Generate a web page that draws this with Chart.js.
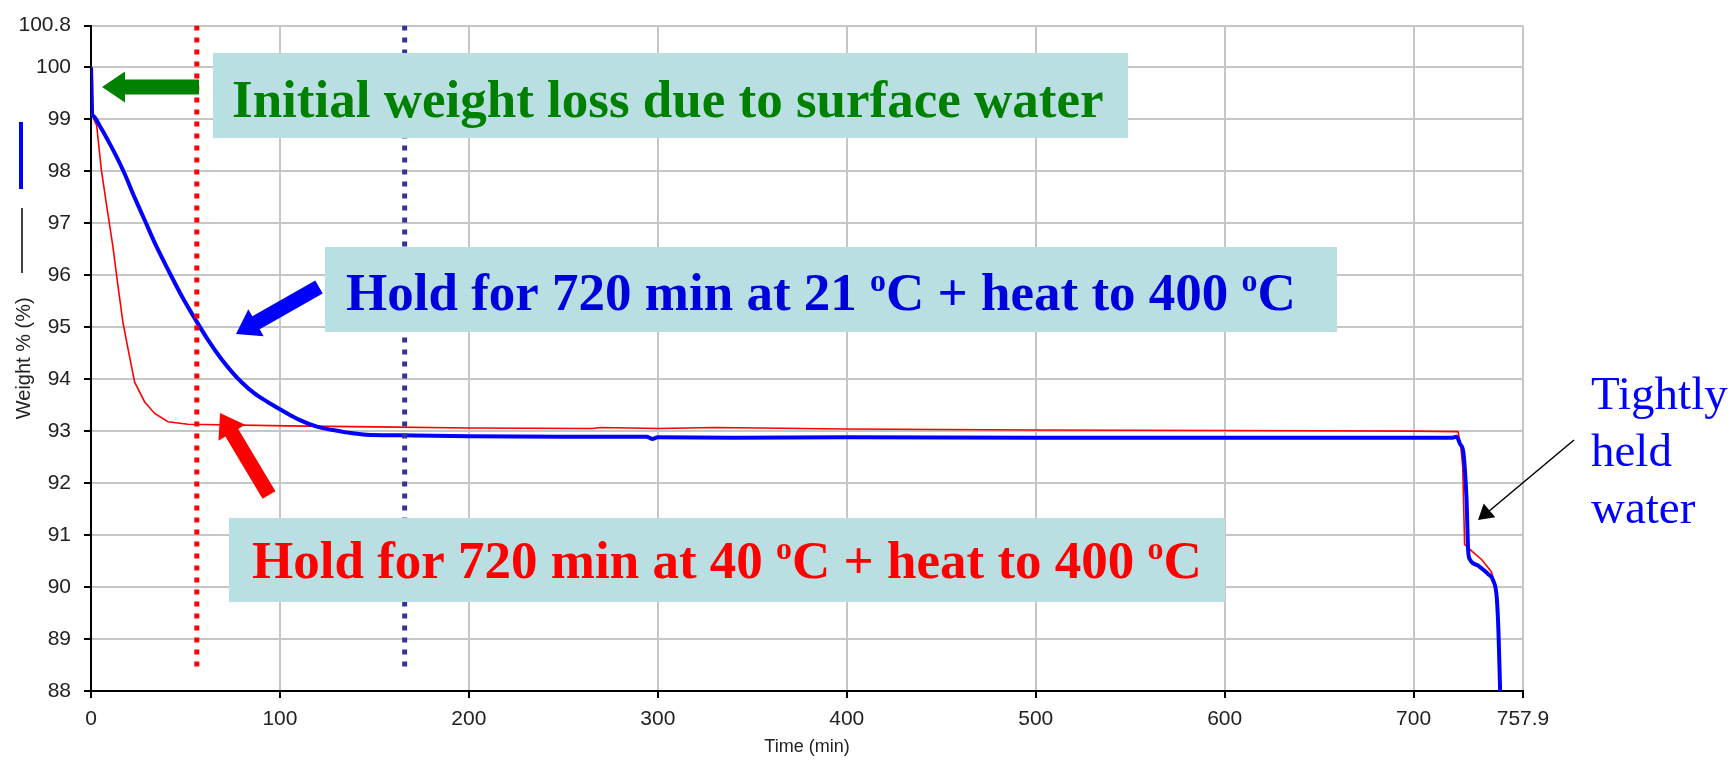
<!DOCTYPE html>
<html>
<head>
<meta charset="utf-8">
<script src="https://cdn.jsdelivr.net/npm/chart.js@4.4.1/dist/chart.umd.min.js"></script>
<style>
html,body{margin:0;padding:0;background:#fff;overflow:hidden}
canvas{display:block}
</style>
</head>
<body>
<canvas id="c" width="1733" height="760"></canvas>
<script>
// ---- Data ----
const blueTime = [0, 0.3, 0.6, 1, 5, 9, 13.5, 17.8, 23, 28.4, 34, 40.7, 48, 55.7, 62, 68.9, 75, 80, 86, 93, 100, 110, 120, 128, 136, 145.7, 163, 200, 250, 294, 297, 300, 340, 400, 500, 600, 700, 720, 722.7, 724.5, 726.3, 727.1, 728, 728.9, 729.8, 734.2, 739.5, 742.2, 744, 744.9, 745.8];
const blueWeight = [100.0, 99.6, 99.1, 99.07, 98.85, 98.59, 98.28, 97.95, 97.5, 97.06, 96.6, 96.11, 95.6, 95.12, 94.75, 94.39, 94.12, 93.93, 93.74, 93.57, 93.42, 93.22, 93.08, 93.02, 92.97, 92.93, 92.92, 92.9, 92.89, 92.89, 92.85, 92.88, 92.87, 92.88, 92.87, 92.87, 92.87, 92.87, 92.89, 92.76, 92.6, 92.28, 91.71, 90.69, 90.53, 90.41, 90.25, 90.12, 89.8, 89.16, 88.0];
const redTime = [0, 0.5, 1.5, 3, 5.5, 8.1, 11.6, 14.3, 16.9, 19.6, 23.1, 28.4, 33.7, 40.7, 51.3, 104, 150, 200, 265, 270, 300, 330, 400, 500, 600, 700, 723.5, 725, 726, 727, 730.8, 736, 739.5, 741.3, 742.5, 744, 745, 745.8];
const redWeight = [100.0, 99.3, 99.0, 98.88, 98.02, 97.38, 96.55, 95.79, 95.09, 94.58, 93.94, 93.56, 93.34, 93.18, 93.13, 93.10, 93.08, 93.06, 93.05, 93.07, 93.05, 93.07, 93.04, 93.02, 93.01, 93.0, 92.99, 92.7, 92.3, 90.82, 90.69, 90.53, 90.37, 90.28, 90.12, 89.8, 89.1, 88.0];
const xTickValues = [0, 100, 200, 300, 400, 500, 600, 700, 757.9];
const yTickValues = [88, 89, 90, 91, 92, 93, 94, 95, 96, 97, 98, 99, 100, 100.8];
const markerTimes = [56, 166];          // dotted vertical markers (min)
const markerRange = [88.35, 100.8];     // weight % span of markers

const toXY = (xs, ys) => xs.map((x, i) => ({x: x, y: ys[i]}));

// ---- Annotation layout (pixels) ----
const BOX_FILL = '#b9dfe2';
const annBoxes = [
  {x: 213, y: 53, w: 915, h: 85, tx: 232, ty: 117, color: '#008000',
   parts: [{t: 'Initial weight loss due to surface water'}]},
  {x: 325, y: 247, w: 1012, h: 85, tx: 346, ty: 310, color: '#0000dd',
   parts: [{t: 'Hold for 720 min at 21 '}, {t: 'o', sup: true}, {t: 'C + heat to 400 '}, {t: 'o', sup: true}, {t: 'C'}]},
  {x: 229, y: 518, w: 996, h: 84, tx: 252, ty: 578, color: '#ff0000',
   parts: [{t: 'Hold for 720 min at 40 '}, {t: 'o', sup: true}, {t: 'C + heat to 400 '}, {t: 'o', sup: true}, {t: 'C'}]}
];
const fatArrows = [
  {x1: 199, y1: 87, x2: 102, y2: 87, color: '#008000'},
  {x1: 319, y1: 287, x2: 236, y2: 334, color: '#0000ff'},
  {x1: 269, y1: 495, x2: 220, y2: 413, color: '#ff0000'}
];

function fatArrow(ctx, a, shaftW, headW, headL) {
  const dx = a.x2 - a.x1, dy = a.y2 - a.y1, L = Math.hypot(dx, dy);
  const ux = dx / L, uy = dy / L, nx = -uy, ny = ux;
  const bx = a.x2 - ux * headL, by = a.y2 - uy * headL;
  ctx.beginPath();
  ctx.moveTo(a.x1 + nx * shaftW / 2, a.y1 + ny * shaftW / 2);
  ctx.lineTo(bx + nx * shaftW / 2, by + ny * shaftW / 2);
  ctx.lineTo(bx + nx * headW / 2, by + ny * headW / 2);
  ctx.lineTo(a.x2, a.y2);
  ctx.lineTo(bx - nx * headW / 2, by - ny * headW / 2);
  ctx.lineTo(bx - nx * shaftW / 2, by - ny * shaftW / 2);
  ctx.lineTo(a.x1 - nx * shaftW / 2, a.y1 - ny * shaftW / 2);
  ctx.closePath();
  ctx.fillStyle = a.color;
  ctx.fill();
}

const annotationPlugin = {
  id: 'annotations',
  afterDraw(chart) {
    const ctx = chart.ctx;
    ctx.save();
    // legend-like marks beside the y title
    ctx.strokeStyle = '#0000ff'; ctx.lineWidth = 4;
    ctx.beginPath(); ctx.moveTo(21, 122); ctx.lineTo(21, 189); ctx.stroke();
    ctx.strokeStyle = '#000'; ctx.lineWidth = 1.5;
    ctx.beginPath(); ctx.moveTo(22, 208); ctx.lineTo(22, 273); ctx.stroke();

    // boxes with text
    const big = 'bold 53px "Liberation Serif", "Times New Roman", serif';
    const sup = 'bold 32px "Liberation Serif", "Times New Roman", serif';
    annBoxes.forEach(b => {
      ctx.fillStyle = BOX_FILL;
      ctx.fillRect(b.x, b.y, b.w, b.h);
      ctx.fillStyle = b.color;
      ctx.textBaseline = 'alphabetic';
      ctx.textAlign = 'left';
      let x = b.tx;
      b.parts.forEach(p => {
        ctx.font = p.sup ? sup : big;
        ctx.fillText(p.t, x, p.sup ? b.ty - 19 : b.ty);
        x += ctx.measureText(p.t).width;
      });
    });
    fatArrows.forEach(a => fatArrow(ctx, a, 15, 31, 23));

    // thin black arrow + label
    ctx.strokeStyle = '#000'; ctx.lineWidth = 1.5;
    ctx.beginPath(); ctx.moveTo(1574, 440); ctx.lineTo(1488, 512); ctx.stroke();
    fatArrow(ctx, {x1: 1574, y1: 440, x2: 1478, y2: 520, color: '#000'}, 0, 18, 15);
    ctx.fillStyle = '#0000ff';
    ctx.font = '47px "Liberation Serif", "Times New Roman", serif';
    ctx.fillText('Tightly', 1591, 409);
    ctx.fillText('held', 1591, 466);
    ctx.fillText('water', 1591, 523);
    ctx.restore();
  }
};

const markerSets = markerTimes.map((t, i) => ({
  data: [{x: t, y: markerRange[1]}, {x: t, y: markerRange[0]}],
  borderColor: i === 0 ? '#ff0000' : '#333399',
  borderWidth: 5,
  borderDash: [5, 7],
  borderCapStyle: 'butt',
  pointRadius: 0,
  order: 0
}));

new Chart(document.getElementById('c'), {
  type: 'line',
  data: {
    datasets: [
      ...markerSets,
      {label: '21 C', data: toXY(blueTime, blueWeight), borderColor: '#0000ff', borderWidth: 4,
       pointRadius: 0, cubicInterpolationMode: 'monotone', order: 1},
      {label: '40 C', data: toXY(redTime, redWeight), borderColor: '#ff0000', borderWidth: 1.6,
       pointRadius: 0, tension: 0, order: 2}
    ]
  },
  options: {
    responsive: false,
    animation: false,
    parsing: true,
    layout: {padding: {left: 0, right: 210, top: 21, bottom: 0}},
    plugins: {legend: {display: false}, tooltip: {enabled: false}},
    scales: {
      x: {
        type: 'linear', min: 0, max: 757.9,
        afterBuildTicks: s => { s.ticks = xTickValues.map(v => ({value: v})); },
        afterFit: s => { s.height = 69; },
        ticks: {callback: v => String(v), color: '#222', padding: 9, maxRotation: 0,
                font: {family: '"Liberation Sans", Arial, sans-serif', size: 21}},
        grid: {color: '#c6c6c6', lineWidth: 2, tickColor: '#000', tickLength: 7, tickWidth: 2},
        border: {color: '#000', width: 2},
        title: {display: true, text: 'Time (min)', color: '#222', padding: {top: 0, bottom: 2},
                font: {family: '"Liberation Sans", Arial, sans-serif', size: 18}}
      },
      y: {
        type: 'linear', min: 88, max: 100.8,
        afterBuildTicks: s => { s.ticks = yTickValues.map(v => ({value: v})); },
        afterFit: s => { s.width = 91; },
        ticks: {callback: v => String(v), color: '#222', padding: 13,
                font: {family: '"Liberation Sans", Arial, sans-serif', size: 21}},
        grid: {color: '#c6c6c6', lineWidth: 2, tickColor: '#000', tickLength: 7, tickWidth: 2},
        border: {color: '#000', width: 2},
        title: {display: true, text: 'Weight % (%)', color: '#222', padding: {top: 12, bottom: 0},
                font: {family: '"Liberation Sans", Arial, sans-serif', size: 20}}
      }
    }
  },
  plugins: [annotationPlugin]
});
</script>
</body>
</html>
